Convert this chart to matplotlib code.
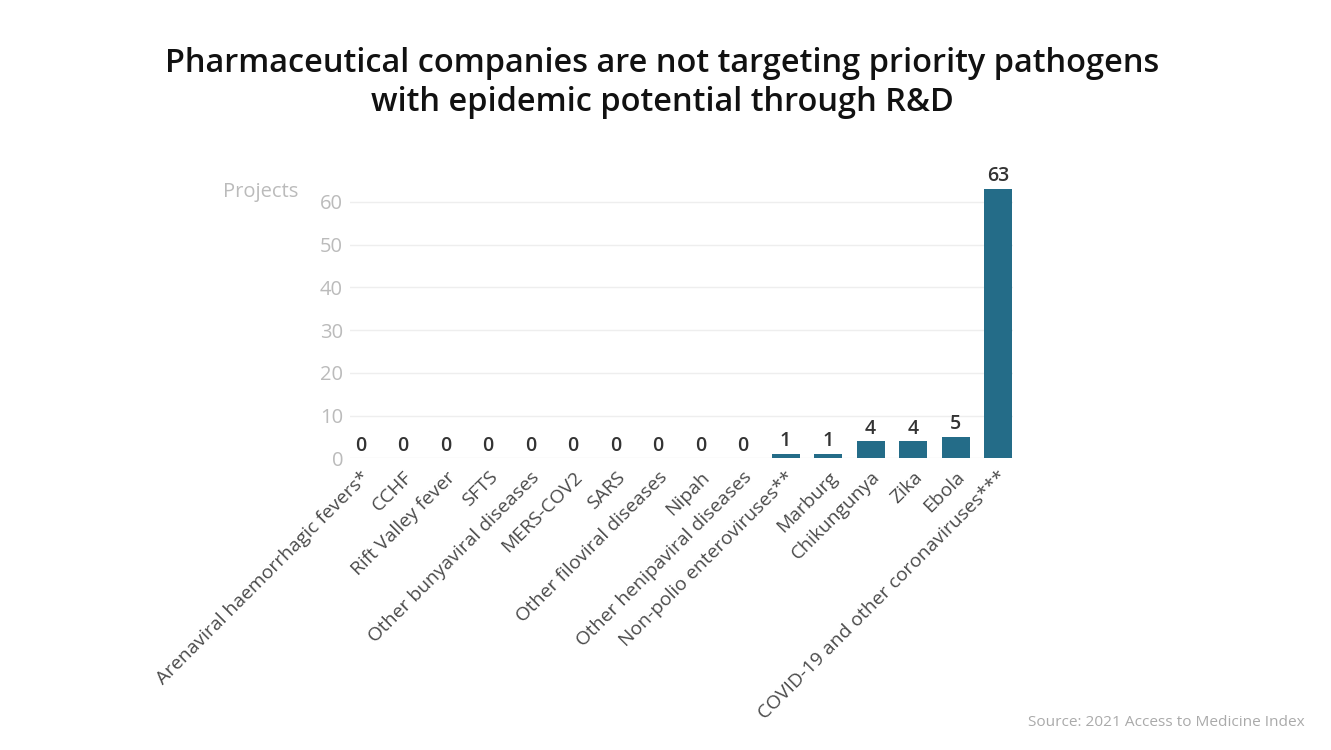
import matplotlib
matplotlib.use("Agg")
import matplotlib.pyplot as plt

# Data
pathogens = [
    "Arenaviral haemorrhagic fevers*", "CCHF", "Rift Valley fever", "SFTS",
    "Other bunyaviral diseases", "MERS-COV2", "SARS", "Other filoviral diseases",
    "Nipah", "Other henipaviral diseases", "Non-polio enteroviruses**",
    "Marburg", "Chikungunya", "Zika", "Ebola", "COVID-19 and other coronaviruses***",
]
projects = [0, 0, 0, 0, 0, 0, 0, 0, 0, 0, 1, 1, 4, 4, 5, 63]
yticks = [0, 10, 20, 30, 40, 50, 60]

plt.rcParams['font.family'] = ['Open Sans', 'DejaVu Sans']

bar_color = '#246c88'
fig = plt.figure(figsize=(13.31, 7.5), dpi=100)
ax = fig.add_axes([0.263, 0.389, 0.498, 0.359])

x = range(len(pathogens))
bars = ax.bar(x, projects, width=0.66, color=bar_color, zorder=3)
for xi, v in zip(x, projects):
    ax.text(xi, v + 0.6, str(v), ha='center', va='bottom', fontsize=14,
            fontweight='semibold', color='#333333')

ax.set_xlim(-0.25, len(pathogens) - 0.65)
ax.set_ylim(0, 63)
ax.set_yticks(yticks)
ax.set_yticklabels([str(t) for t in yticks], color='#bbbbbb', fontsize=14.5)
ax.grid(axis='y', color='#eeeeee', linewidth=1, zorder=0)
ax.set_xticks(list(x))
ax.set_xticklabels(pathogens, rotation=45, ha='right', rotation_mode='anchor',
                   fontsize=13.9, color='#4a4a4a')
ax.tick_params(axis='both', length=0)
ax.tick_params(axis='x', pad=7)
ax.tick_params(axis='y', pad=5)
for s in ax.spines.values():
    s.set_visible(False)

fig.text(0.1955, 0.744, 'Projects', fontsize=14.5, color='#bbbbbb',
         ha='center', va='center')

fig.text(0.4975, 0.889,
         'Pharmaceutical companies are not targeting priority pathogens\n'
         'with epidemic potential through R&D',
         ha='center', va='center', fontsize=23.4, fontweight='semibold',
         color='#111111', linespacing=1.25)

fig.text(0.98, 0.037, 'Source: 2021 Access to Medicine Index', ha='right',
         va='center', fontsize=11.1, color='#aaaaaa')

fig.savefig('out.png', dpi=100)
